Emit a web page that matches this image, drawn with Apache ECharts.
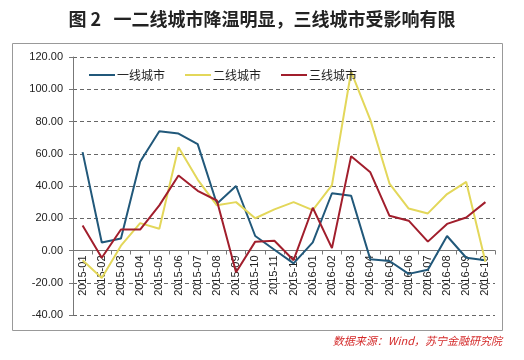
<!DOCTYPE html>
<html><head><meta charset="utf-8">
<script src="https://cdn.jsdelivr.net/npm/echarts@6/dist/echarts.min.js"></script>
<style>html,body{margin:0;padding:0;background:#fff}#c{width:524px;height:360px}</style>
</head><body><div id="c"></div>
<script>
const categories = ['2015-01','2015-02','2015-03','2015-04','2015-05','2015-06','2015-07','2015-08','2015-09','2015-10','2015-11','2015-12','2016-01','2016-02','2016-03','2016-04','2016-05','2016-06','2016-07','2016-08','2016-09','2016-10'];
const tier1 = [61, 5, 7.5, 55, 74, 72.5, 66, 29, 40, 9, 0.5, -8, 5, 35.5, 34, -5.5, -6.5, -14.5, -12, 9, -4.5, -6];
const tier2 = [-6, -17, 3, 17, 13.5, 64, 44, 28, 30, 20, 25.5, 30, 25, 40.5, 111, 81, 41.5, 26, 23, 35, 42.5, -7];
const tier3 = [15.5, -4.5, 13, 13, 28, 46.5, 37, 31, -13.5, 5.5, 6, -6, 26.5, 1.5, 58.5, 48.5, 21.5, 18.5, 5.5, 16.5, 20.5, 30];
const seriesNames = ['一线城市', '二线城市', '三线城市'];
const yTicks = {min: -40, max: 120, interval: 20};

const gridTop = 57, gridBottom = 45, H = 360;
const plotH = H - gridTop - gridBottom;
const zeroOffset = -plotH * (0 - yTicks.min) / (yTicks.max - yTicks.min);

const chart = echarts.init(document.getElementById('c'), null, {renderer: 'canvas'});
const font = '"Liberation Sans", "Noto Sans CJK SC", sans-serif';
chart.setOption({
  animation: false,
  textStyle: {fontFamily: font},
  title: {
    text: '图 2   一二线城市降温明显，三线城市受影响有限',
    left: 'center', top: 5,
    textStyle: {fontSize: 18, fontWeight: 'bold', color: '#222', fontFamily: '"Noto Sans CJK SC", sans-serif'}
  },
  graphic: [
    {type: 'rect', shape: {x: 12.5, y: 43.5, width: 490, height: 287}, style: {fill: 'none', stroke: '#999', lineWidth: 1}, z: -1},
    {type: 'text', right: 22, top: 335, style: {text: '数据来源：Wind，苏宁金融研究院', fill: '#d42a2a', font: 'italic 11px "Noto Sans CJK SC", sans-serif'}}
  ],
  legend: {
    left: 84, top: 64, itemGap: 20, itemWidth: 26, itemHeight: 2,
    icon: 'rect',
    textStyle: {fontSize: 12, color: '#222', fontFamily: '"Noto Sans CJK SC", sans-serif', padding: [0,0,0,-3]},
    data: seriesNames
  },
  grid: {left: 73, right: 29, top: gridTop, bottom: gridBottom, containLabel: false},
  xAxis: {
    type: 'category', data: categories, boundaryGap: true,
    offset: zeroOffset,
    axisLine: {onZero: false, lineStyle: {color: '#777', width: 1}},
    axisTick: {show: true, length: 4, inside: false, lineStyle: {color: '#777'}},
    axisLabel: {rotate: 90, fontSize: 11, color: '#222', interval: 0, margin: 5}
  },
  yAxis: {
    type: 'value', min: yTicks.min, max: yTicks.max, interval: yTicks.interval,
    axisLine: {show: true, lineStyle: {color: '#777'}},
    axisTick: {show: true, length: 4, lineStyle: {color: '#777'}},
    axisLabel: {fontSize: 11, color: '#222', margin: 10, formatter: v => v.toFixed(2)},
    splitLine: {show: true, lineStyle: {color: '#666', type: [4, 3], width: 1}}
  },
  series: [
    {name: seriesNames[0], type: 'line', data: tier1, symbol: 'none', lineStyle: {width: 2, color: '#21587A'}, itemStyle: {color: '#21587A'}},
    {name: seriesNames[1], type: 'line', data: tier2, symbol: 'none', lineStyle: {width: 2, color: '#E3D75A'}, itemStyle: {color: '#E3D75A'}},
    {name: seriesNames[2], type: 'line', data: tier3, symbol: 'none', lineStyle: {width: 2, color: '#A11E2C'}, itemStyle: {color: '#A11E2C'}}
  ]
});
</script></body></html>
